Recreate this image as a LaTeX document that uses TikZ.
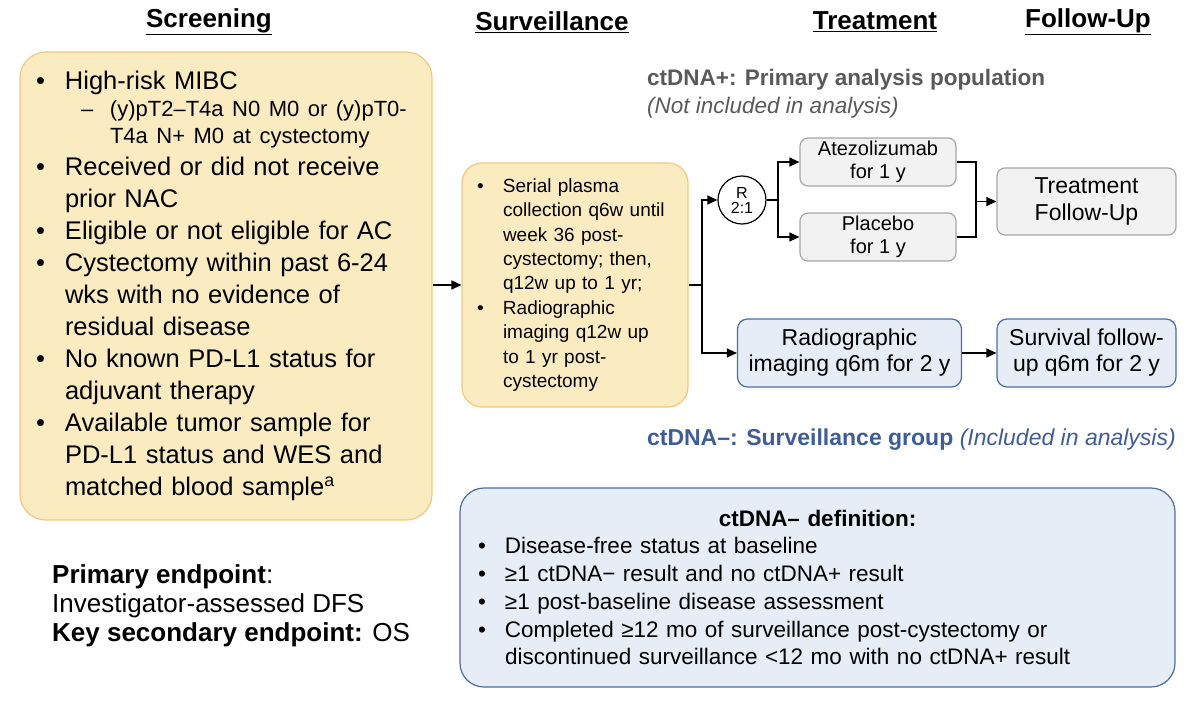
\documentclass[tikz,border=0pt]{standalone}
\usepackage{fontspec}
\setmainfont{Liberation Sans}
\usetikzlibrary{arrows.meta, positioning}

\definecolor{scrfill}{HTML}{FBEBC1}
\definecolor{scrline}{HTML}{F2C77E}
\definecolor{grayfill}{HTML}{F2F2F2}
\definecolor{grayline}{HTML}{A6A6A6}
\definecolor{bluefill}{HTML}{E6EDF7}
\definecolor{blueline}{HTML}{4D6CA6}
\definecolor{ctgray}{HTML}{595959}
\definecolor{ctblue}{HTML}{3F5C9A}

\newcommand{\bul}[2][27pt]{{\let\\\newline\hangindent=#1\hangafter=0\noindent\llap{\makebox[#1][l]{\textbullet}}#2\par}}
\newcommand{\subl}[1]{{\let\\\newline\fontsize{22}{27}\selectfont\leftskip=74pt\noindent\llap{\makebox[29pt][l]{–}}#1\par}}

\begin{document}
\begin{tikzpicture}[
  x=1pt, y=-1pt,
  yelbox/.style={draw=scrline, fill=scrfill, line width=1.2pt, rounded corners=26pt, inner xsep=16pt, inner ysep=0pt},
  graybox/.style={draw=grayline, fill=grayfill, line width=1.2pt, rounded corners=8pt, align=center, inner sep=0pt},
  bluebox/.style={draw=blueline, fill=bluefill, line width=1.2pt, rounded corners=10pt, align=center, inner sep=0pt},
  head/.style={font=\fontsize{26}{30}\selectfont\bfseries},
  arrow/.style={-{Triangle[length=10pt, width=9pt]}, line width=1.2pt},
  link/.style={line width=1.2pt}
]
\useasboundingbox (0,0) rectangle (1200,717);

\node[head] (hscr) at (209,22) {\underline{Screening}};
\node[head] (hsurv) at (552,22) {\underline{Surveillance}};
\node[head] (htrt) at (875,22) {\underline{Treatment}};
\node[head] (hfu) at (1088,22) {\underline{Follow-Up}};

\node[yelbox, minimum width=412pt, minimum height=468pt, text width=380pt,
  font=\fontsize{25.5}{32}\selectfont] (scr) at (226,286) {\raggedright\parskip=0pt
\bul[29pt]{High-risk MIBC}
\subl{(y)pT2–T4a N0 M0 or (y)pT0-\\T4a N+ M0 at cystectomy}
\bul[29pt]{Received or did not receive\\prior NAC}
\bul[29pt]{Eligible or not eligible for AC}
\bul[29pt]{Cystectomy within past 6-24\\wks with no evidence of\\residual disease}
\bul[29pt]{No known PD-L1 status for\\adjuvant therapy}
\bul[29pt]{Available tumor sample for\\PD-L1 status and WES and\\matched blood sample\textsuperscript{a}}};

\node[yelbox, rounded corners=20pt, inner xsep=15pt, minimum width=226pt, minimum height=244pt, text width=196pt,
  font=\fontsize{19}{24.4}\selectfont] (surv) at (575,285) {\raggedright\parskip=0pt
\bul[26pt]{Serial plasma\\collection q6w until\\week 36 post-\\cystectomy; then,\\q12w up to 1 yr;}
\bul[26pt]{Radiographic\\imaging q12w up\\to 1 yr post-\\cystectomy}};

\node[anchor=west, inner sep=0pt, font=\fontsize{22.5}{26}\selectfont\bfseries, text=ctgray] (ctpos) at (647,80) {ctDNA+: Primary analysis population};
\node[anchor=west, inner sep=0pt, font=\fontsize{22.5}{26}\selectfont\itshape, text=ctgray] (ctposnote) at (647,108) {(Not included in analysis)};

\node[draw, circle, line width=1.2pt, fill=white, minimum size=48pt, inner sep=0pt, align=center,
  font=\fontsize{16}{15}\selectfont] (rand) at (742,200) {R\\2:1};
\node[graybox, minimum width=156pt, minimum height=48pt, font=\fontsize{20}{23}\selectfont] (atezo) at (878,162) {Atezolizumab\\for 1 y};
\node[graybox, minimum width=156pt, minimum height=48pt, font=\fontsize{20}{23}\selectfont] (plac) at (878,237) {Placebo\\for 1 y};
\node[graybox, minimum width=179pt, minimum height=67pt, font=\fontsize{23}{27}\selectfont] (tfu) at (1086.5,201.5) {Treatment\\Follow-Up};

\node[bluebox, minimum width=224pt, minimum height=68pt, font=\fontsize{23}{26}\selectfont] (radio) at (849.5,353) {Radiographic\\imaging q6m for 2 y};
\node[bluebox, minimum width=179pt, minimum height=68pt, font=\fontsize{23}{26}\selectfont] (sfu) at (1086.5,353) {Survival follow-\\up q6m for 2 y};

\node[anchor=east, inner sep=0pt, font=\fontsize{23}{26}\selectfont, text=ctblue] (ctneg) at (1176,440) {\textbf{ctDNA–: Surveillance group} \textit{(Included in analysis)}};

\node[bluebox, rounded corners=24pt, align=left, inner xsep=18pt, minimum width=715pt, minimum height=199pt, text width=679pt,
  font=\fontsize{22.5}{27.7}\selectfont] (defn) at (817.5,587.5) {\raggedright\parskip=0pt
{\centering\bfseries ctDNA– definition:\par}
\bul{Disease-free status at baseline}
\bul{≥1 ctDNA− result and no ctDNA+ result}
\bul{≥1 post-baseline disease assessment}
\bul{Completed ≥12 mo of surveillance post-cystectomy or\\discontinued surveillance <12 mo with no ctDNA+ result}};

\node[anchor=west, inner sep=0pt, align=left, font=\fontsize{26}{29}\selectfont] (endp) at (52,606) {\textbf{Primary endpoint}:\\Investigator-assessed DFS\\\textbf{Key secondary endpoint:} OS};

\coordinate (split) at (702,285);
\coordinate (rsplit) at (778,200);
\coordinate (tjoin) at (976,201.5);

\draw[arrow] (scr.east |- surv.west) -- (surv.west);
\draw[link] (surv.east) -- (split);
\draw[arrow] (split) |- (rand.west);
\draw[arrow] (split) |- (radio.west);
\draw[link] (rand.east) -- (rsplit);
\draw[arrow] (rsplit) |- (atezo.west);
\draw[arrow] (rsplit) |- (plac.west);
\draw[link] (atezo.east) -| (tjoin);
\draw[link] (plac.east) -| (tjoin);
\draw[arrow] (tjoin) -- (tfu.west);
\draw[arrow] (radio) -- (sfu);
\end{tikzpicture}
\end{document}
